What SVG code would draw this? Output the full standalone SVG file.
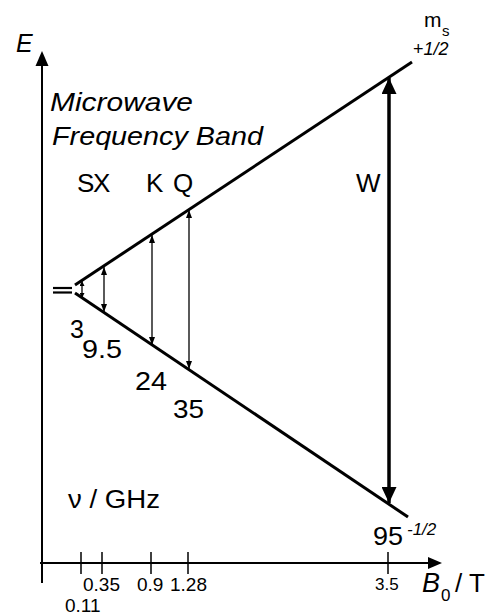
<svg xmlns="http://www.w3.org/2000/svg" width="490" height="616" viewBox="0 0 490 616">
<style>
text{font-family:"Liberation Sans",Arial,sans-serif;fill:#000}
.it{font-style:italic}
.lvl{stroke:#000;stroke-width:3;fill:none;stroke-linecap:butt}
.axis{stroke:#000;stroke-width:2;fill:none}
.tick{stroke:#000;stroke-width:1.5}
.thin{stroke:#000;stroke-width:1.3;fill:none}
.big{stroke:#000;stroke-width:3.5;fill:none}
.f26{font-size:26px}
.f19{font-size:19px}
</style>
<defs>
<marker id="ah" markerUnits="userSpaceOnUse" markerWidth="8" markerHeight="6" refX="8" refY="3" orient="auto-start-reverse"><path d="M0,0 L8,3 L0,6 z" fill="#000"/></marker>
<marker id="ahs" markerUnits="userSpaceOnUse" markerWidth="5" markerHeight="5" refX="5" refY="2.5" orient="auto-start-reverse"><path d="M0,0 L5,2.5 L0,5 z" fill="#000"/></marker>
<marker id="ahw" markerUnits="userSpaceOnUse" markerWidth="16" markerHeight="15" refX="16" refY="7.5" orient="auto-start-reverse"><path d="M0,0 L16,7.5 L0,15 z" fill="#000"/></marker>
</defs>
<rect width="490" height="616" fill="#fff"/>

<g id="axes">
<line class="axis" x1="42" y1="583" x2="42" y2="62"/>
<path d="M42,51 L35.5,66 L48.5,66 z" fill="#000"/>
<line class="axis" x1="40" y1="563" x2="430" y2="563"/>
<path d="M442,563 L428,557 L428,569 z" fill="#000"/>
<line class="tick" x1="81" y1="552" x2="81" y2="574"/>
<line class="tick" x1="102" y1="552" x2="102" y2="574"/>
<line class="tick" x1="151" y1="552" x2="151" y2="574"/>
<line class="tick" x1="188" y1="552" x2="188" y2="574"/>
<line class="tick" x1="388" y1="552" x2="388" y2="574"/>
<text class="it" x="16" y="52" font-size="25">E</text>
<text class="f19" x="83" y="591">0.35</text>
<text class="f19" x="137" y="591">0.9</text>
<text class="f19" x="170" y="591">1.28</text>
<text class="f19" x="65" y="612">0.11</text>
<text x="375" y="590" font-size="17">3.5</text>
<text class="it" x="422" y="592" font-size="27">B</text>
<text x="441" y="601" font-size="17">0</text>
<text x="455" y="592" font-size="26">/ T</text>
</g>

<g id="levels">
<line class="lvl" x1="75" y1="285" x2="412" y2="62"/>
<line class="lvl" x1="75" y1="293" x2="408" y2="517"/>
<line stroke="#000" stroke-width="2.2" x1="53" y1="288" x2="72" y2="288"/>
<line stroke="#000" stroke-width="2.2" x1="53" y1="292.5" x2="72" y2="292.5"/>
<text x="424" y="27" font-size="21">m</text>
<text x="442" y="36" font-size="15">s</text>
<text x="413" y="55" font-size="18">+<tspan class="it">1/2</tspan></text>
<text class="it" x="407" y="535" font-size="17">-1/2</text>
</g>

<g id="connectors">
<line class="thin" x1="82" y1="281" x2="82" y2="298" marker-start="url(#ahs)" marker-end="url(#ahs)"/>
<line class="thin" x1="104" y1="267" x2="104" y2="312" marker-start="url(#ah)" marker-end="url(#ah)"/>
<line class="thin" x1="152" y1="235" x2="152" y2="345" marker-start="url(#ah)" marker-end="url(#ah)"/>
<line class="thin" x1="189" y1="210" x2="189" y2="369" marker-start="url(#ah)" marker-end="url(#ah)"/>
<line class="big" x1="389" y1="78" x2="389" y2="503" marker-start="url(#ahw)" marker-end="url(#ahw)"/>
</g>

<g id="band-labels">
<text class="it" x="50" y="111" font-size="25" textLength="143" lengthAdjust="spacingAndGlyphs">Microwave</text>
<text class="it" x="52" y="145" font-size="25" textLength="211" lengthAdjust="spacingAndGlyphs">Frequency Band</text>
<text class="f26" x="77" y="192">S</text>
<text class="f26" x="93" y="192">X</text>
<text class="f26" x="146" y="192">K</text>
<text class="f26" x="173" y="192">Q</text>
<text class="f26" x="356" y="192">W</text>
</g>

<g id="freq-labels">
<text x="70" y="338" font-size="25">3</text>
<text x="82" y="358" font-size="25" textLength="40" lengthAdjust="spacingAndGlyphs">9.5</text>
<text class="f26" x="135" y="390" textLength="32" lengthAdjust="spacingAndGlyphs">24</text>
<text class="f26" x="173" y="418" textLength="31" lengthAdjust="spacingAndGlyphs">35</text>
<text x="373" y="545" font-size="25" textLength="30" lengthAdjust="spacingAndGlyphs">95</text>
<text x="68" y="508" font-size="25" textLength="92" lengthAdjust="spacingAndGlyphs">ν / GHz</text>
</g>
</svg>
